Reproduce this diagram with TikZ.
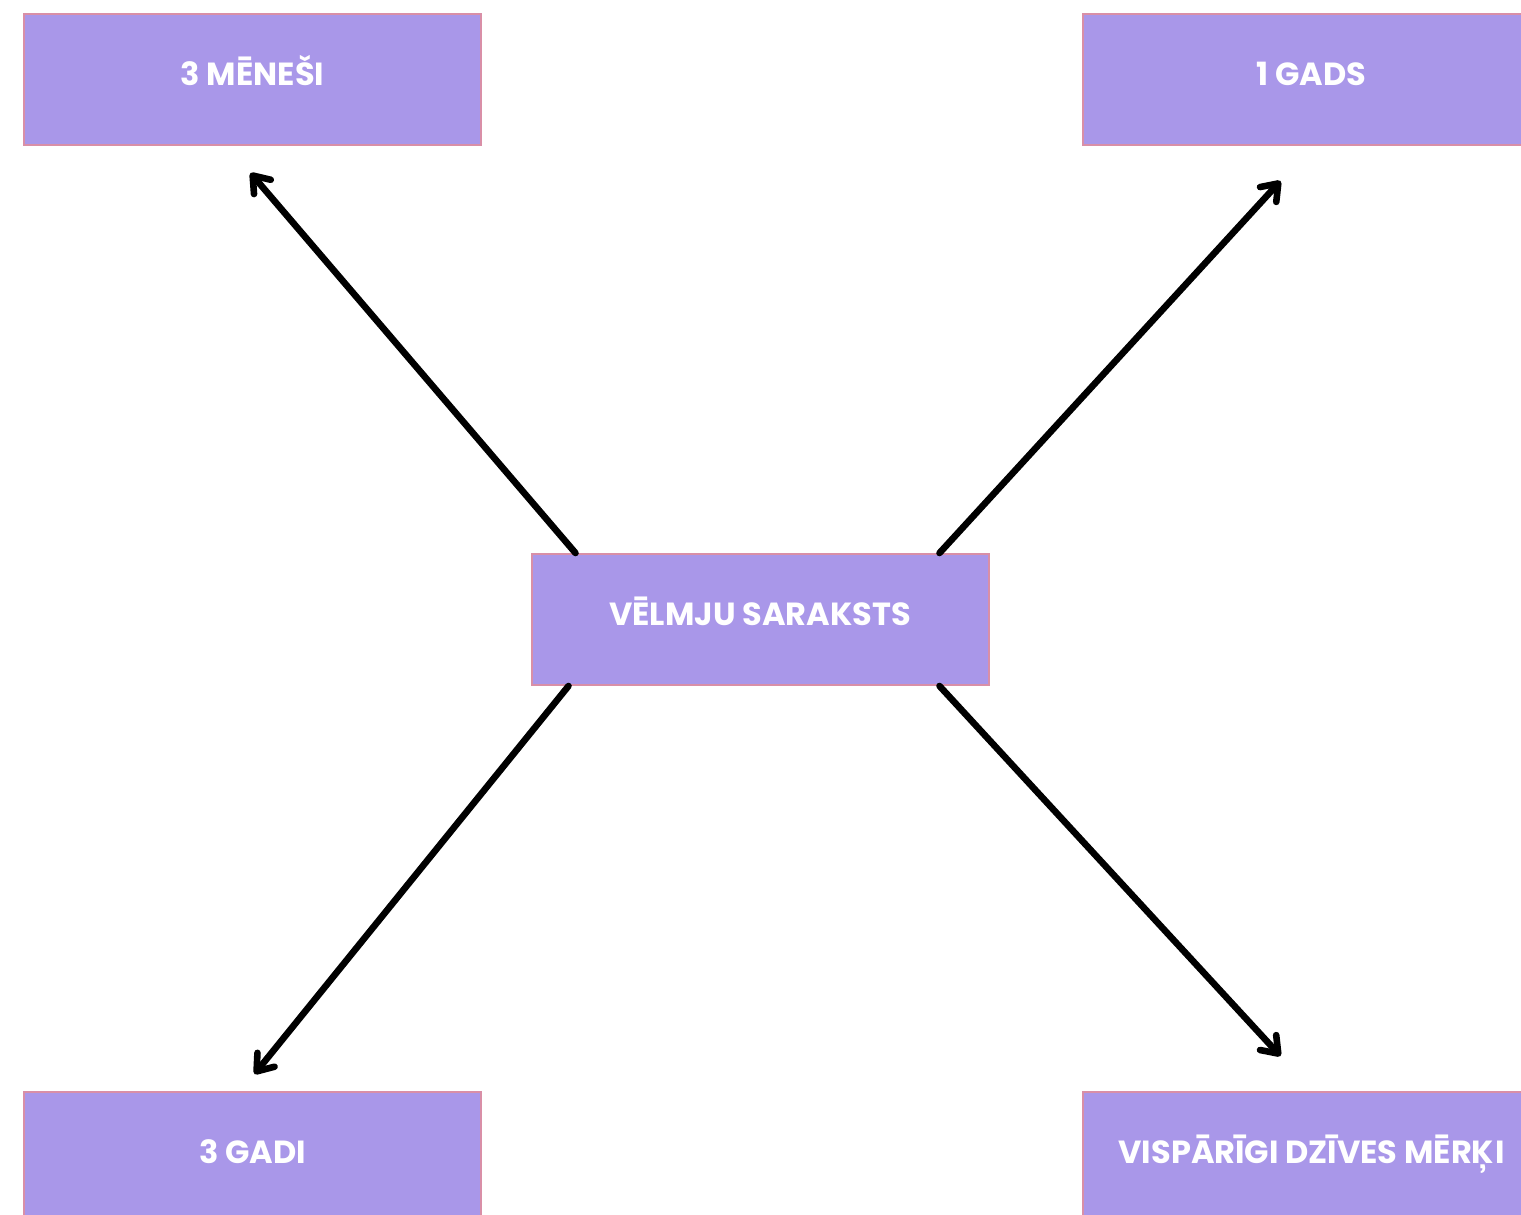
\documentclass[tikz,border=0pt]{standalone}
\usepackage{fontspec}
\setmainfont{Poppins}[BoldFont={* Bold}]
\usetikzlibrary{arrows.meta}
\definecolor{boxfill}{HTML}{A997E9}
\definecolor{boxline}{HTML}{D98FA7}

\tikzset{
    goalbox/.style={draw=boxline, line width=1pt, fill=boxfill, inner sep=0pt,
        minimum width=228.5pt, minimum height=65.5pt},
    goaltext/.style={text=white, font=\bfseries\fontsize{16}{18}\selectfont,
        text height=0.7em, text depth=0pt, yshift=0.3pt},
    link/.style={line width=3.3pt, line cap=round, line join=round,
        {Straight Barb[length=7.5pt,width=11pt,round]}-}
}

\begin{document}
\begin{tikzpicture}[x=0.5pt,y=-0.5pt]
        \useasboundingbox (0,0) rectangle (1521,1215);
        % boxes
        \draw (760,619.5) node[goalbox](wish) {};
        \draw (252.5,79.5) node[goalbox](months) {};
        \draw (1311.5,79.5) node[goalbox](year) {};
        \draw (252.5,1157.5) node[goalbox](years) {};
        \draw (1311.5,1157.5) node[goalbox](life) {};
        % labels
        \draw (wish) node[goaltext] {VĒLMJU SARAKSTS};
        \draw (months) node[goaltext] {3 MĒNEŠI};
        \draw (year) node[goaltext] {1 GADS};
        \draw (years) node[goaltext] {3 GADI};
        \draw (life) node[goaltext] {VISPĀRĪGI DZĪVES MĒRĶI};
        % arrow ends
        \coordinate (tipA) at ([xshift=-1pt,yshift=-13.5pt]months.south);
        \coordinate (tipB) at ([xshift=-15.5pt,yshift=-17.5pt]year.south);
        \coordinate (tipC) at ([xshift=1pt,yshift=8.5pt]years.north);
        \coordinate (tipD) at ([xshift=-15.5pt,yshift=17.5pt]life.north);
        \draw[link] (tipA) -- ([xshift=22.5pt]wish.north west);
        \draw[link] (tipB) -- ([xshift=-25pt]wish.north east);
        \draw[link] (tipC) -- ([xshift=19pt]wish.south west);
        \draw[link] (tipD) -- ([xshift=-25pt]wish.south east);
    \end{tikzpicture}
\end{document}
